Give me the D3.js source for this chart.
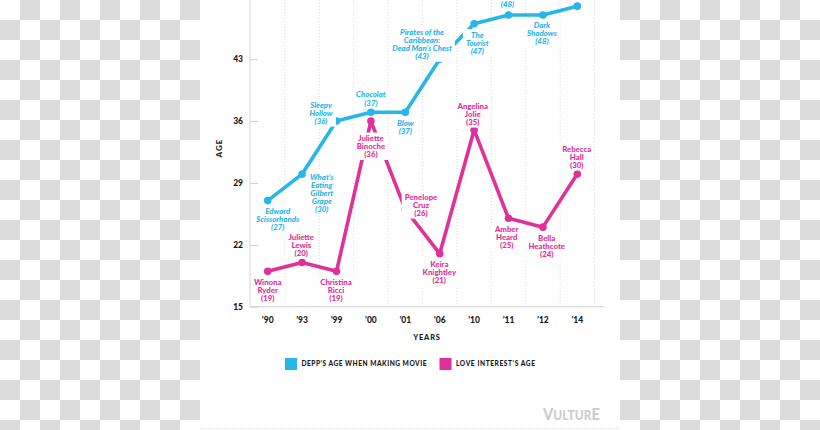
<!DOCTYPE html>
<html>
<head>
<meta charset="utf-8">
<script src="https://cdn.jsdelivr.net/npm/d3@7/dist/d3.min.js"></script>
<style>
  html, body { margin: 0; padding: 0; background: #fff; }
  svg { display: block; font-family: Lato, "Open Sans", sans-serif; }
</style>
</head>
<body>
<svg id="chart" width="820" height="430"></svg>
<script>
// ---------------- data ----------------
const years = ["’90", "’93", "’99", "’00", "’01", "’06", "’10", "’11", "’12", "’14"];
const deppAges = [27, 30, 36, 37, 37, 43, 47, 48, 48, 49];
const loveAges = [19, 20, 19, 36, 26, 21, 35, 25, 24, 30];
const deppMovies = [
  ["Edward", "Scissorhands"],
  ["What’s", "Eating", "Gilbert", "Grape"],
  ["Sleepy", "Hollow"],
  ["Chocolat"],
  ["Blow"],
  ["Pirates of the", "Caribbean:", "Dead Man’s Chest"],
  ["The", "Tourist"],
  ["The Rum Diary"],
  ["Dark", "Shadows"],
  ["Transcendence"]
];
const loveNames = [
  ["Winona", "Ryder"],
  ["Juliette", "Lewis"],
  ["Christina", "Ricci"],
  ["Juliette", "Binoche"],
  ["Penelope", "Cruz"],
  ["Keira", "Knightley"],
  ["Angelina", "Jolie"],
  ["Amber", "Heard"],
  ["Bella", "Heathcote"],
  ["Rebecca", "Hall"]
];
const yTicks = [15, 22, 29, 36, 43];
const seriesNames = ["DEPP’S AGE WHEN MAKING MOVIE", "LOVE INTEREST’S AGE"];

// ---------------- style / layout ----------------
const BLUE = "#27b6ea", PINK = "#e0309a";
const svg = d3.select("#chart");

// checkerboard background (left and right margins)
const checkerCells = d3.cross(d3.range(41), d3.range(22)).filter(([i, j]) => (i + j) % 2 === 1);
svg.append("rect").attr("width", 820).attr("height", 430).attr("fill", "#ffffff");
svg.append("g").attr("class", "checker").selectAll("rect").data(checkerCells).join("rect")
  .attr("x", d => d[0] * 20).attr("y", d => d[1] * 20).attr("width", 20).attr("height", 20)
  .attr("fill", "#dcdcdc");
svg.append("rect").attr("x", 200).attr("y", 0).attr("width", 420).attr("height", 430).attr("fill", "#fff");
svg.append("line").attr("x1", 200).attr("x2", 620).attr("y1", 428.5).attr("y2", 428.5)
  .attr("stroke", "#e2e2e2").attr("stroke-dasharray", "1,1");

// scales
const x = d3.scaleBand().domain(years).range([250.5, 594.5]).padding(0);
const y = d3.scaleLinear().domain([15, 50]).range([306.7, -2.7]);
const cx = d => x(d) + x.bandwidth() / 2;

// vertical dotted gridlines at band edges
svg.append("g").selectAll("line").data(years).join("line")
  .attr("x1", d => x(d) + x.bandwidth()).attr("x2", d => x(d) + x.bandwidth())
  .attr("y1", 0).attr("y2", y(15))
  .attr("stroke", "#d9d9d9").attr("stroke-width", 1).attr("stroke-dasharray", "1,2");

// y axis
const yAxis = svg.append("g").attr("transform", "translate(250,0)")
  .call(d3.axisRight(y).tickValues(yTicks).tickSize(8).tickFormat(""));
yAxis.select(".domain").remove();
yAxis.selectAll(".tick line").attr("stroke", "#cfcfcf");
svg.append("line").attr("x1", 250).attr("x2", 250).attr("y1", 0).attr("y2", y(15))
  .attr("stroke", "#d6d6d6");
svg.append("g").selectAll("text").data(yTicks).join("text")
  .attr("x", 243).attr("y", d => y(d)).attr("dy", "0.35em")
  .attr("text-anchor", "end").attr("font-size", 8.5).attr("font-weight", 900)
  .attr("fill", "#1a1a1a").text(d => d);

// x axis
const xAxis = svg.append("g").attr("transform", `translate(0,${y(15)})`)
  .call(d3.axisBottom(x).tickSize(0).tickPadding(10));
xAxis.select(".domain").remove();
xAxis.selectAll("text").attr("font-size", 8.5).attr("font-weight", 900)
  .attr("fill", "#1a1a1a").attr("font-family", "Lato, sans-serif");
svg.append("line").attr("x1", 250).attr("x2", 604).attr("y1", y(15)).attr("y2", y(15))
  .attr("stroke", "#cfcfcf");

// axis titles
svg.append("text").attr("transform", "translate(222,148) rotate(-90)")
  .attr("text-anchor", "middle").attr("font-size", 8).attr("font-weight", 900)
  .attr("letter-spacing", 1).attr("fill", "#1a1a1a").text("AGE");
svg.append("text").attr("x", 427).attr("y", 340)
  .attr("text-anchor", "middle").attr("font-size", 7.5).attr("font-weight", 900)
  .attr("letter-spacing", 0.8).attr("fill", "#1a1a1a").text("YEARS");

// lines
const line = d3.line().x((d, i) => cx(years[i])).y(d => y(d));
svg.append("path").datum(deppAges).attr("d", line).attr("fill", "none")
  .attr("stroke", BLUE).attr("stroke-width", 3.6).attr("stroke-linejoin", "round");
svg.append("path").datum(loveAges).attr("d", line).attr("fill", "none")
  .attr("stroke", PINK).attr("stroke-width", 3.6).attr("stroke-linejoin", "round");

// points
svg.append("g").selectAll("circle").data(deppAges).join("circle")
  .attr("cx", (d, i) => cx(years[i])).attr("cy", d => y(d)).attr("r", 3.8).attr("fill", BLUE);
svg.append("g").selectAll("circle").data(loveAges).join("circle")
  .attr("cx", (d, i) => cx(years[i])).attr("cy", d => y(d)).attr("r", 3.8).attr("fill", PINK);

// label placement: offset of the first text line's centre from its point (dx, dy)
const deppPlace = [[10, 10.4], [19.6, 2.7], [-15.5, -16], [0, -17.5], [0, 11],
                   [-17.7, -27.2], [3.2, 11], [-1, -18.5], [-1, 10.3], [0, -30]];
const lovePlace = [[0, 10.7], [-0.8, -25.2], [-0.5, 10.7], [0, 17.3], [15.7, -12.4],
                   [-0.4, 10.6], [-1.4, -23.9], [-1.8, 10.7], [3.8, 10.9], [-0.6, -25.3]];
const LH = 8.2;

function drawLabels(names, ages, place, color, italic) {
  const g = svg.append("g");
  names.forEach((lines, i) => {
    const px = cx(years[i]) + place[i][0];
    const py = y(ages[i]) + place[i][1];
    // lines that sit entirely above the top of the picture are not shown (cropped in the original)
    const all = lines.concat([`(${ages[i]})`])
      .map((s, k) => ({ s, yy: py + k * LH }))
      .filter(d => d.yy > 3);
    if (!all.length) return;
    const lg = g.append("g");
    const rect = lg.append("rect").attr("fill", "#fff");
    const t = lg.append("text").attr("text-anchor", "middle")
      .attr("font-size", 7.8).attr("font-weight", 900)
      .attr("font-style", italic ? "italic" : "normal").attr("fill", color);
    all.forEach(d => {
      t.append("tspan").attr("x", px).attr("y", d.yy + 2.7).text(d.s);
    });
    const bb = t.node().getBBox();
    rect.attr("x", bb.x - 3).attr("y", bb.y - 0.5).attr("width", bb.width + 6).attr("height", bb.height + 1);
  });
}
drawLabels(deppMovies, deppAges, deppPlace, BLUE, true);
drawLabels(loveNames, loveAges, lovePlace, PINK, false);

// legend
const legend = svg.append("g");
const legX = [285, 439.5];
const legW = [125, 79];
seriesNames.forEach((s, i) => {
  legend.append("rect").attr("x", legX[i]).attr("y", 358).attr("width", 12).attr("height", 12)
    .attr("fill", i === 0 ? BLUE : PINK);
  legend.append("text").attr("x", legX[i] + 16.5).attr("y", 364).attr("dy", "0.35em")
    .attr("font-size", 6.6).attr("font-weight", 900).attr("fill", "#1a1a1a")
    .attr("textLength", legW[i]).attr("lengthAdjust", "spacing").text(s);
});

// logo
const logo = svg.append("text").attr("x", 600).attr("y", 420).attr("text-anchor", "end")
  .attr("font-weight", 900).attr("fill", "#cdcdcd").attr("textLength", 57).attr("lengthAdjust", "spacingAndGlyphs");
logo.append("tspan").attr("font-size", 17).text("V");
logo.append("tspan").attr("font-size", 14).text("ULTUR");
logo.append("tspan").attr("font-size", 17).text("E");
</script>
</body>
</html>
